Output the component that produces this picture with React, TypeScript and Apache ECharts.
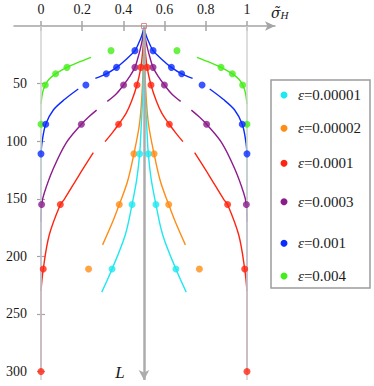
import React, { useEffect, useRef } from 'react';
import * as echarts from 'echarts';

// ---------- data ----------
const X_TICKS = [0, 0.2, 0.4, 0.6, 0.8, 1];
const L_TICKS = [50, 100, 150, 200, 250, 300];
const L_MAX = 300;
const ORIGIN = [0.5, 0];

const EPS_VALUES = ['0.00001', '0.00002', '0.0001', '0.0003', '0.001', '0.004'];
const COLORS = ['#1ee8f0', '#ff8c14', '#ff2410', '#8c1c8c', '#0a2cff', '#44ee18'];

// left-branch line segments, points are [sigma, L]; right branch is the mirror 1 - sigma
const cyanSegments = [
  [[0.5, 0], [0.498, 30], [0.494, 60], [0.487, 85.3], [0.479, 111], [0.465, 133], [0.442, 155], [0.409, 181.4], [0.345, 211], [0.295, 231]],
];
const cyanDots = [[0.479, 111], [0.442, 155], [0.345, 211]];

const orangeSegments = [
  [[0.5, 0], [0.497, 30], [0.49, 60], [0.478, 85.3], [0.451, 111], [0.42, 135], [0.38, 155], [0.348, 170], [0.299, 190]],
];
const orangeDots = [[0.451, 111], [0.38, 155], [0.231, 211]];

const redSegments = [
  [[0.5, 0], [0.497, 15], [0.492, 25], [0.485, 35.9], [0.466, 51.2], [0.44, 65], [0.413, 75.8], [0.377, 85.3], [0.345, 93], [0.311, 100.4]],
  [[0.254, 110], [0.183, 130], [0.113, 150.4], [0.094, 155], [0.04, 181.4], [0.011, 211], [0, 230]],
];
const redDots = [[0.485, 35.9], [0.466, 51.2], [0.377, 85.3], [0.094, 155], [0.011, 211], [0, 300]];

const purpleSegments = [
  [[0.5, 0], [0.494, 10], [0.482, 20], [0.47, 28], [0.456, 35.9], [0.43, 44], [0.401, 51.2], [0.365, 59], [0.322, 65.4]],
  [[0.27, 73], [0.231, 79], [0.196, 85.3], [0.121, 101.8], [0.057, 125], [0.016, 145], [0.003, 155], [0, 170]],
];
const purpleDots = [[0.456, 35.9], [0.401, 51.2], [0.196, 85.3], [0.003, 155]];

const blueSegments = [
  [[0.5, 0], [0.495, 5], [0.486, 10], [0.474, 15], [0.456, 21.4], [0.413, 29], [0.367, 35.9], [0.317, 41.5], [0.264, 45.4]],
  [[0.181, 54.7], [0.117, 63.4], [0.06, 72.9], [0.023, 85.3], [0.006, 100], [0, 111]],
];
const blueDots = [[0.456, 21.4], [0.367, 35.9], [0.317, 41.5], [0.218, 51.2], [0.023, 85.3], [0, 111]];

const greenSegments = [
  [[0.243, 27.2], [0.19, 31], [0.126, 35.9], [0.071, 41.5], [0.04, 46], [0.021, 51.2], [0.008, 57.6], [0, 67.7]],
];
const greenDots = [[0.34, 21.4], [0.126, 35.9], [0.071, 41.5], [0.021, 51.2], [0, 85.3]];

const ALL_SEGMENTS = [cyanSegments, orangeSegments, redSegments, purpleSegments, blueSegments, greenSegments];
const ALL_DOTS = [cyanDots, orangeDots, redDots, purpleDots, blueDots, greenDots];
// curves that run into the boundary and continue faintly along it
const HAS_TAIL = [false, false, true, true, true, true];

// ---------- layout ----------
const X_MIN = -0.131;
const X_MAX = 1.136;
const Y_MAX = 307.3;
const FONT = 'Liberation Serif';
const LEGEND_Y = [95, 128.3, 163.3, 201.7, 243.3, 276];
const Y_AXIS_OFFSET = -27; // moves the L axis from the grid edge to sigma = 0

const mirror = (p: number[]) => [1 - p[0], p[1]];

function buildSeries() {
  const series: any[] = [];
  const order = [5, 4, 3, 2, 1, 0];
  series.push({
    type: 'line',
    data: [],
    silent: true,
    z: 1,
    markLine: {
      silent: true,
      symbol: 'none',
      animation: false,
      label: { show: false },
      lineStyle: { color: '#d2d2d2', width: 1.5, type: 'solid' },
      emphasis: { disabled: true },
      data: [{ xAxis: 0 }, { xAxis: 1 }],
    },
  });
  for (const i of order) {
    const color = COLORS[i];
    for (const seg of ALL_SEGMENTS[i]) {
      for (const side of [0, 1]) {
        series.push({
          type: 'line',
          data: side === 0 ? seg : seg.map(mirror),
          smooth: 0.35,
          showSymbol: false,
          symbol: 'none',
          silent: true,
          z: 3,
          lineStyle: { color, width: 1.4 },
        });
      }
    }
  }
  for (const i of order) {
    if (!HAS_TAIL[i]) continue;
    const segs = ALL_SEGMENTS[i];
    const last = segs[segs.length - 1];
    const p = last[last.length - 1];
    const tail = [p, [p[0], L_MAX]];
    for (const side of [0, 1]) {
      series.push({
        type: 'line',
        data: side === 0 ? tail : tail.map(mirror),
        showSymbol: false,
        symbol: 'none',
        silent: true,
        z: 4,
        lineStyle: { color: COLORS[i], width: 1.4, opacity: 0.35 },
      });
    }
  }
  for (const i of order) {
    const dots = ALL_DOTS[i];
    series.push({
      type: 'scatter',
      data: [...dots, ...dots.map(mirror)],
      symbol: 'circle',
      symbolSize: 7,
      silent: true,
      z: 6,
      itemStyle: { color: COLORS[i] },
    });
  }
  series.push({
    type: 'scatter',
    data: [ORIGIN],
    symbol: 'rect',
    symbolSize: 5,
    silent: true,
    z: 8,
    itemStyle: { color: 'rgba(255,255,255,0)', borderColor: '#e07070', borderWidth: 1 },
    markLine: {
      silent: true,
      animation: false,
      symbol: ['none', 'arrow'],
      symbolSize: [8, 10],
      label: { show: false },
      emphasis: { disabled: true },
      lineStyle: { color: '#acacac', width: 2.5, type: 'solid' },
      data: [[{ coord: [0.5, 0] }, { coord: [0.5, Y_MAX] }]],
    },
  });
  return series;
}

function buildGraphic() {
  const children: any[] = [
    {
      type: 'rect',
      shape: { x: 271, y: 80, width: 99, height: 208 },
      style: { fill: '#fff', stroke: '#9c9c9c', lineWidth: 1.5 },
      z: 10,
    },
  ];
  EPS_VALUES.forEach((v, i) => {
    children.push({
      type: 'circle',
      shape: { cx: 284, cy: LEGEND_Y[i], r: 3.5 },
      style: { fill: COLORS[i] },
      z: 11,
    });
    children.push({
      type: 'text',
      x: 298,
      y: LEGEND_Y[i],
      z: 11,
      style: {
        text: '{e|ε}{n|=' + v + '}',
        verticalAlign: 'middle',
        rich: {
          e: { fontFamily: FONT, fontStyle: 'italic', fontSize: 15, fill: '#1a1a1a' },
          n: { fontFamily: FONT, fontSize: 15, fill: '#1a1a1a' },
        },
      },
    });
  });
  children.push({
    type: 'text',
    x: 120,
    y: 372,
    z: 11,
    style: { text: 'L', fontFamily: FONT, fontStyle: 'italic', fontSize: 17, fill: '#1a1a1a', align: 'center', verticalAlign: 'middle' },
  });
  // axis name: sigma with tilde and subscript H, as one text
  children.push({
    type: 'text',
    x: 271,
    y: 11,
    z: 11,
    style: {
      text: '{s|σ\u0303}{h|H}',
      align: 'left',
      verticalAlign: 'middle',
      rich: {
        s: { fontFamily: 'DejaVu Serif', fontStyle: 'italic', fontSize: 14, lineHeight: 18, fill: '#1a1a1a', verticalAlign: 'bottom' },
        h: { fontFamily: FONT, fontStyle: 'italic', fontSize: 11, lineHeight: 18, fill: '#1a1a1a', verticalAlign: 'bottom', padding: [0, 0, 0, 0] },
      },
    },
  });
  return children;
}

const AXIS_GRAY = '#a4a4a4';

const option: any = {
  animation: false,
  backgroundColor: '#fff',
  grid: { left: 14, top: 26, width: 261, height: 354, containLabel: false, outerBoundsMode: 'none' },
  xAxis: [
    {
      type: 'value',
      position: 'top',
      min: X_MIN,
      max: X_MAX,
      axisLine: { show: true, onZero: false, symbol: ['none', 'arrow'], symbolSize: [7, 10], lineStyle: { color: AXIS_GRAY, width: 1.5 } },
      axisTick: { show: true, customValues: X_TICKS, length: 5, lineStyle: { color: AXIS_GRAY, width: 1.5 } },
      axisLabel: {
        customValues: X_TICKS,
        formatter: (v: number) => String(Math.round(v * 10) / 10),
        fontFamily: FONT,
        fontSize: 14,
        color: '#1a1a1a',
        margin: 10,
      },
      splitLine: { show: false },
    },
    {
      type: 'value',
      position: 'top',
      min: X_MIN,
      max: X_MAX,
      axisLine: { show: false, onZero: false },
      axisTick: { show: true, inside: true, customValues: X_TICKS, length: 5, lineStyle: { color: AXIS_GRAY, width: 1.5 } },
      axisLabel: { show: false },
      splitLine: { show: false },
    },
  ],
  yAxis: [
    {
      type: 'value',
      inverse: true,
      position: 'left',
      offset: Y_AXIS_OFFSET,
      min: 0,
      max: Y_MAX,
      axisLine: { show: false, onZero: false },
      axisTick: { show: true, customValues: L_TICKS, length: 4, lineStyle: { color: AXIS_GRAY, width: 1.2 } },
      axisLabel: { customValues: L_TICKS, fontFamily: FONT, fontSize: 14, color: '#1a1a1a', margin: 14 },
      splitLine: { show: false },
    },
    {
      type: 'value',
      inverse: true,
      position: 'left',
      offset: Y_AXIS_OFFSET,
      min: 0,
      max: Y_MAX,
      axisLine: { show: false, onZero: false },
      axisTick: { show: true, inside: true, customValues: L_TICKS, length: 4, lineStyle: { color: AXIS_GRAY, width: 1.2 } },
      axisLabel: { show: false },
      splitLine: { show: false },
    },
  ],
  series: buildSeries(),
  graphic: buildGraphic(),
};

export default function App() {
  const ref = useRef<HTMLDivElement>(null);
  useEffect(() => {
    if (!ref.current) return;
    const chart = echarts.init(ref.current, null, { renderer: 'svg' });
    chart.setOption(option);
    return () => chart.dispose();
  }, []);
  return (
    <div
      ref={ref}
      style={{ position: 'fixed', left: 0, top: 0, width: 374, height: 386, background: '#fff' }}
    />
  );
}
